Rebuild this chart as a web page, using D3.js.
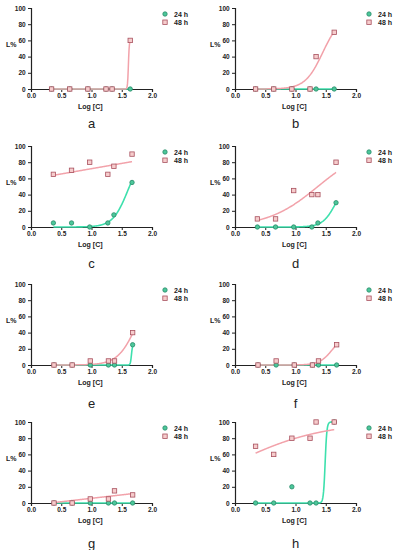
<!DOCTYPE html>
<html>
<head>
<meta charset="utf-8">
<script src="https://cdn.jsdelivr.net/npm/d3@7"></script>
<style>
  body { margin: 0; background: #fff; }
  svg text { font-family: "Liberation Sans", Arial, sans-serif; }
</style>
</head>
<body>
<svg id="chart" width="395" height="550"></svg>
<script>
// panel letters
var panels = ["a", "b", "c", "d", "e", "f", "g", "h"];
var seriesNames = ["24 h", "48 h"];
var xTicks = [0.0, 0.5, 1.0, 1.5, 2.0];
var yTicks = [0, 20, 40, 60, 80, 100];

// log concentrations of each panel
var logA = [0.34, 0.64, 0.94, 1.24, 1.34, 1.64];
var logC = [0.37, 0.67, 0.97, 1.27, 1.37, 1.67];
var logE = [0.38, 0.68, 0.98, 1.28, 1.38, 1.68];
var logX = [logA, logA, logC, logC, logE, logE, logE, logA];

// measured L% values
var l24 = [
  [0, 0, 0, 0, 0, 0],
  [0, 0, 0, 0, 0, 0],
  [5, 5, 0, 5, 15, 55],
  [0, 0, 0, 0, 5, 30],
  [0, 0, 0, 0, 0, 25],
  [0, 0, 0, 0, 0, 0],
  [0, 0, 0, 0, 0, 0],
  [0, 0, 20, 0, 0, 100]
];
var l48 = [
  [0, 0, 0, 0, 0, 60],
  [0, 0, 0, 0, 40, 70],
  [65, 70, 80, 65, 75, 90],
  [10, 10, 45, 40, 40, 80],
  [0, 0, 5, 5, 5, 40],
  [0, 5, 0, 0, 5, 25],
  [0, 0, 5, 5, 15, 10],
  [70, 60, 80, 80, 100, 100]
];

// fitted curves: ["s", bottom, top, logEC50, hill] or ["l", intercept, slope] or ["f", value]
var fit24 = [
  ["f", 0],
  ["f", 0],
  ["s", 0, 90, 1.6, 3.5],
  ["s", 0, 60, 1.67, 4],
  ["s", 0, 25, 1.66, 50],
  ["f", 0],
  ["f", 0],
  ["s", 0, 100, 1.49, 30]
];
var fit48 = [
  ["s", 0, 60, 1.61, 60],
  ["s", 0, 90, 1.45, 3],
  ["l", 59, 13],
  ["s", 0, 100, 1.37, 1.05],
  ["s", 0, 100, 1.75, 2.8],
  ["s", 0, 40, 1.62, 4],
  ["l", -2.7, 8.5],
  ["s", 0, 100, 0.0, 0.6]
];

var green = "#3ee0ad", greenDark = "#2a8a6a", greenFill = "#4cc79a";
var pink = "#f2a2aa", pinkDark = "#a8505e", pinkFill = "#f6cccc";

var colX = [31, 235];
var rowTop = [8, 146, 284, 422];
var letterY = [128, 268, 408, 548];
var w = 121, h = 81;

var svg = d3.select("#chart");

function model(p, x) {
  if (p[0] === "f") return p[1];
  if (p[0] === "l") return p[1] + p[2] * x;
  return p[1] + (p[2] - p[1]) / (1 + Math.pow(10, (p[3] - x) * p[4]));
}

panels.forEach(function (name, i) {
  var left = colX[i % 2], top = rowTop[Math.floor(i / 2)];
  var g = svg.append("g").attr("transform", "translate(" + left + "," + top + ")");

  var x = d3.scaleLinear().domain([0, 2]).range([0, w]);
  var y = d3.scaleLinear().domain([0, 100]).range([h, 0]);

  var xs = logX[i];
  var samples = d3.range(0, 201).map(function (k) {
    return xs[0] + (xs[xs.length - 1] - xs[0]) * k / 200;
  });
  var line = d3.line()
    .x(function (d) { return x(d[0]); })
    .y(function (d) { return y(d[1]); });

  // axes
  var yAxis = g.append("g")
    .call(d3.axisLeft(y).tickValues(yTicks).tickSize(3).tickFormat(d3.format("d")));
  var xAxis = g.append("g").attr("transform", "translate(0," + h + ")")
    .call(d3.axisBottom(x).tickValues(xTicks).tickSize(3).tickFormat(d3.format(".1f")));
  [xAxis, yAxis].forEach(function (a) {
    a.select(".domain").attr("stroke", "#222").attr("stroke-width", 1.2);
    a.selectAll(".tick line").attr("stroke", "#222").attr("stroke-width", 1);
    a.selectAll("text").attr("font-size", 6.5).attr("font-weight", "bold").attr("fill", "#222");
  });
  xAxis.selectAll("text").attr("dy", "0.5em");
  yAxis.selectAll("text").attr("dx", "0.1em");

  // fit lines
  g.append("path")
    .datum(samples.map(function (s) { return [s, model(fit24[i], s)]; }))
    .attr("d", line).attr("fill", "none").attr("stroke", green).attr("stroke-width", 1.6);
  g.append("path")
    .datum(samples.map(function (s) { return [s, model(fit48[i], s)]; }))
    .attr("d", line).attr("fill", "none").attr("stroke", pink).attr("stroke-width", 1.5);

  // points
  g.selectAll(".c24").data(l24[i]).enter().append("circle")
    .attr("cx", function (d, k) { return x(xs[k]); })
    .attr("cy", function (d) { return y(d); })
    .attr("r", 2.2)
    .attr("fill", greenFill).attr("stroke", greenDark).attr("stroke-width", 0.8);
  g.selectAll(".s48").data(l48[i]).enter().append("rect")
    .attr("x", function (d, k) { return x(xs[k]) - 2.2; })
    .attr("y", function (d) { return y(d) - 2.2; })
    .attr("width", 4.4).attr("height", 4.4)
    .attr("fill", pinkFill).attr("stroke", pinkDark).attr("stroke-width", 0.8);

  // legend
  var lg = g.append("g").attr("transform", "translate(" + (w + 13) + ",0)");
  lg.append("circle").attr("cx", 0).attr("cy", 6).attr("r", 2.2)
    .attr("fill", greenFill).attr("stroke", greenDark).attr("stroke-width", 0.8);
  lg.append("rect").attr("x", -2.2).attr("y", 12).attr("width", 4.4).attr("height", 4.4)
    .attr("fill", pinkFill).attr("stroke", pinkDark).attr("stroke-width", 0.8);
  lg.selectAll("text").data(seriesNames).enter().append("text")
    .attr("x", 9).attr("y", function (d, k) { return 8.5 + k * 8.2; })
    .attr("font-size", 7).attr("font-weight", "bold").attr("fill", "#222")
    .text(function (d) { return d; });

  // axis titles
  g.append("text").attr("x", -25).attr("y", h / 2 - 2)
    .attr("font-size", 7).attr("font-weight", "bold").attr("fill", "#222").text("L%");
  g.append("text").attr("x", x(0.98)).attr("y", h + 20).attr("text-anchor", "middle")
    .attr("font-size", 7).attr("font-weight", "bold").attr("fill", "#222").text("Log [C]");

  svg.append("text")
    .attr("x", left + x(1.0)).attr("y", letterY[Math.floor(i / 2)])
    .attr("text-anchor", "middle").attr("font-size", 13).attr("fill", "#222")
    .text(name);
});
</script>
</body>
</html>
